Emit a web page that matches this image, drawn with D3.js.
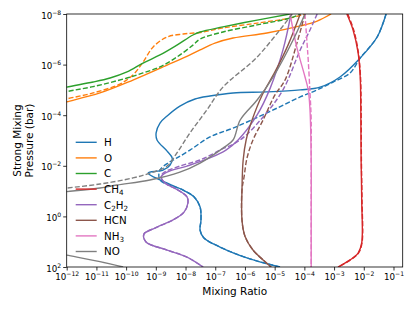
<!DOCTYPE html>
<html>
<head>
<meta charset="utf-8">
<script src="https://cdn.jsdelivr.net/npm/d3@7"></script>
<style>
  body { margin: 0; background: #fff; }
  text { font-family: "DejaVu Sans", sans-serif; fill: #000; }
</style>
</head>
<body>
<script>
// values, stored as log10(pressure in bar) and log10(mixing ratio)
var hSolidP = [-8, -7.09, -6.26, -5.51, -5.11, -5.0, -4.92, -4.88, -4.76, -4.64, -4.36, -3.97, -3.69, -3.30, -3.02, -2.58, -2.31, -2.03, -1.83, -1.75, -1.71, -1.44, -1.04, -0.77, -0.37, 0.14, 0.54, 0.85, 1.21, 1.68, 2.0];
var hSolidX = [-1.25, -1.55, -2.12, -2.80, -3.47, -4.14, -5.26, -6.40, -7.18, -7.68, -8.19, -8.62, -8.86, -8.99, -8.96, -8.62, -8.45, -8.52, -8.76, -9.20, -9.26, -8.86, -8.08, -7.71, -7.51, -7.48, -7.51, -7.38, -6.84, -5.83, -4.82];
var hDashP = [-8, -7.09, -6.26, -5.67, -5.31, -5.0, -4.72, -4.09, -3.49, -3.14, -2.62, -2.31, -2.11, -1.83, -1.44, -1.04, -0.77, -0.37, 0.14, 0.54, 0.85, 1.21, 1.68, 2.0];
var hDashX = [-1.25, -1.55, -2.12, -2.46, -3.03, -3.57, -4.14, -5.26, -6.40, -7.18, -7.85, -8.29, -8.59, -8.86, -8.86, -8.08, -7.71, -7.51, -7.48, -7.51, -7.38, -6.84, -5.83, -4.82];

var oSolidP = [-4.41, -4.53, -4.88, -5.39, -5.98, -6.38, -6.58, -6.85, -7.05, -7.25, -7.53, -7.72, -8];
var oSolidX = [-12.4, -12, -10.88, -9.77, -8.62, -7.85, -7.51, -7.01, -6.40, -5.26, -4.14, -3.57, -3.10];
var oDashP = [-4.5, -4.64, -4.88, -5.23, -5.59, -6.10, -6.70, -7.09, -7.21, -7.27, -7.45, -7.64, -7.84, -8];
var oDashX = [-12.4, -12, -11.11, -10.21, -9.77, -9.43, -9.09, -8.62, -8.08, -7.51, -6.74, -5.59, -4.48, -3.98];

var cSolidP = [-5.0, -5.11, -5.31, -5.47, -5.71, -6.06, -6.38, -6.77, -7.17, -7.29, -7.49, -7.76, -8];
var cSolidX = [-12.4, -12, -11.11, -10.54, -9.97, -9.43, -8.86, -8.29, -7.75, -7.51, -6.74, -5.59, -4.48];
var cDashP = [-4.8, -4.93, -5.13, -5.47, -5.67, -5.91, -6.30, -6.77, -7.01, -7.29, -7.57, -7.84, -8];
var cDashX = [-12.4, -12, -11.11, -9.97, -9.43, -8.86, -8.29, -7.75, -7.51, -6.74, -5.59, -4.48, -4.14];

var ch4P = [-8, -7.37, -6.46, -5.51, -4.21, -2.23, -0.65, 1.05, 1.45, 1.72, 2.0];
var ch4SolidX = [-2.57, -2.36, -2.19, -2.12, -2.10, -2.09, -2.07, -2.07, -2.19, -2.46, -2.87];
var ch4DashX = [-2.54, -2.34, -2.18, -2.11, -2.09, -2.08, -2.06, -2.06, -2.18, -2.45, -2.86];

var c2h2SolidP = [-8, -6.58, -5.07, -4.01, -3.02, -2.62, -2.31, -1.99, -1.75, -1.56, -1.32, -1.04, -0.77, -0.53, -0.17, 0.14, 0.46, 0.70, 1.01, 1.33, 1.61, 2.0];
var c2h2SolidX = [-4.45, -4.72, -5.15, -5.59, -6.23, -6.64, -7.18, -7.95, -8.62, -8.82, -8.69, -8.25, -7.95, -7.92, -8.05, -8.42, -9.03, -9.40, -9.33, -8.62, -7.95, -7.41];
var c2h2DashP = [-8, -7.37, -6.58, -5.0, -3.93, -3.02, -2.62, -2.23, -1.99, -1.71, -1.56, -1.32, -1.04, -0.77, -0.53, -0.17, 0.14, 0.46, 0.70, 1.01, 1.33, 1.61, 2.0];
var c2h2DashX = [-3.57, -3.81, -4.14, -4.72, -5.39, -6.16, -6.84, -7.51, -8.19, -8.76, -8.82, -8.69, -8.25, -7.95, -7.92, -8.05, -8.42, -9.03, -9.40, -9.33, -8.62, -7.95, -7.41];

var hcnSolidP = [-8, -6.77, -5.71, -4.8, -3.81, -3.02, -2.23, -1.04, 0.14, 0.78, 1.33, 1.72, 2.0];
var hcnSolidX = [-4.14, -4.55, -4.99, -5.42, -5.76, -5.96, -6.06, -6.10, -6.10, -6.0, -5.73, -5.39, -5.12];
var hcnDashP = [-8, -6.85, -5.39, -4.8, -3.81, -3.02, -2.31, -1.56, -1.04, 0.14, 0.78, 1.33, 1.72, 2.0];
var hcnDashX = [-3.98, -4.25, -4.65, -4.99, -5.39, -5.73, -5.93, -6.03, -6.10, -6.10, -6.0, -5.73, -5.39, -5.12];

var nh3SolidP = [-8, -6.71, -5.52, -5.0, -4.21, -2.23, 0, 2];
var nh3SolidX = [-4.48, -4.26, -3.98, -3.87, -3.81, -3.77, -3.77, -3.77];
var nh3DashP = [-8, -6.85, -6.18, -4.88, -3.81, -2.23, 0, 2];
var nh3DashX = [-3.98, -3.91, -3.87, -3.81, -3.77, -3.77, -3.77, -3.77];

var noSolidP = [-8, -6.97, -5.51, -4.60, -3.81, -3.02, -2.70, -2.11, -1.75, -1.44, -1.24, -1.12, -0.98, -0.9];
var noSolidX = [-3.98, -4.38, -5.05, -5.59, -6.16, -6.40, -6.74, -7.51, -8.19, -9.20, -10.31, -10.88, -12.0, -12.7];
var noDeepP = [1.39, 1.53, 1.79, 2.0];
var noDeepX = [-12.6, -12.0, -10.88, -10.10];
var noDashP = [-8, -6.30, -5.11, -4.21, -3.30, -2.51, -1.99, -1.71, -1.52, -1.28, -1.12, -1.04];
var noDashX = [-4.41, -5.59, -6.74, -7.28, -7.85, -8.29, -8.62, -9.20, -9.77, -10.88, -12.0, -12.6];

var species = ['H', 'O', 'C', 'CH4', 'C2H2', 'HCN', 'NH3', 'NO'];
var colors = ['#1f77b4', '#ff7f0e', '#2ca02c', '#d62728', '#9467bd', '#8c564b', '#e377c2', '#7f7f7f'];
var xTicks = [1e-12, 1e-11, 1e-10, 1e-9, 1e-8, 1e-7, 1e-6, 1e-5, 1e-4, 1e-3, 1e-2, 1e-1];
var yTicks = [1e-8, 1e-6, 1e-4, 1e-2, 1e0, 1e2];

var lines = [
  {s: 0, dash: false, p: hSolidP, r: hSolidX},
  {s: 0, dash: true, p: hDashP, r: hDashX},
  {s: 1, dash: false, p: oSolidP, r: oSolidX},
  {s: 1, dash: true, p: oDashP, r: oDashX},
  {s: 2, dash: false, p: cSolidP, r: cSolidX},
  {s: 2, dash: true, p: cDashP, r: cDashX},
  {s: 3, dash: false, p: ch4P, r: ch4SolidX},
  {s: 3, dash: true, p: ch4P, r: ch4DashX},
  {s: 4, dash: false, p: c2h2SolidP, r: c2h2SolidX},
  {s: 4, dash: true, p: c2h2DashP, r: c2h2DashX},
  {s: 5, dash: false, p: hcnSolidP, r: hcnSolidX},
  {s: 5, dash: true, p: hcnDashP, r: hcnDashX},
  {s: 6, dash: false, p: nh3SolidP, r: nh3SolidX},
  {s: 6, dash: true, p: nh3DashP, r: nh3DashX},
  {s: 7, dash: false, p: noSolidP, r: noSolidX},
  {s: 7, dash: false, p: noDeepP, r: noDeepX},
  {s: 7, dash: true, p: noDashP, r: noDashX}
];

var width = 415, height = 311;
var x = d3.scaleLog().domain([1e-12, Math.pow(10, -0.69)]).range([66.7, 402.7]);
var y = d3.scaleLog().domain([1e-8, 1e2]).range([14, 267]);
var x0 = x.range()[0], x1 = x.range()[1], y0 = y.range()[0], y1 = y.range()[1];

var svg = d3.select('body').append('svg').attr('width', width).attr('height', height);

svg.append('defs').append('clipPath').attr('id', 'plot')
  .append('rect').attr('x', x0).attr('y', y0).attr('width', x1 - x0).attr('height', y1 - y0);

var line = d3.line()
  .x(d => x(d.r))
  .y(d => y(d.p))
  .curve(d3.curveCatmullRom.alpha(0.5));

var plot = svg.append('g').attr('clip-path', 'url(#plot)');
lines.forEach(function(l) {
  var pts = l.p.map((v, i) => ({p: Math.pow(10, v), r: Math.pow(10, l.r[i])}));
  plot.append('path')
    .datum(pts)
    .attr('d', line)
    .attr('fill', 'none')
    .attr('stroke', colors[l.s])
    .attr('stroke-width', 1.4)
    .attr('stroke-dasharray', l.dash ? '5,2.2' : null);
});

// axes
function expLabel(sel, size) {
  sel.each(function(d) {
    var t = d3.select(this).text('');
    var e = Math.round(Math.log10(d));
    t.append('tspan').attr('font-size', size).text('10');
    t.append('tspan').attr('font-size', size * 0.7).attr('dy', -size * 0.45)
      .text(e < 0 ? '\u2212' + (-e) : '' + e);
  });
}

var xAxis = svg.append('g').attr('transform', 'translate(0,' + y1 + ')')
  .call(d3.axisBottom(x).tickValues(xTicks).tickSize(3.5).tickSizeOuter(0));
xAxis.select('.domain').remove();
xAxis.selectAll('.tick line').attr('stroke-width', 0.8);
xAxis.selectAll('.tick text').attr('y', 13).attr('dy', 0).attr('fill', '#000')
  .attr('font-family', 'DejaVu Sans').call(expLabel, 8.7);

var yAxis = svg.append('g').attr('transform', 'translate(' + x0 + ',0)')
  .call(d3.axisLeft(y).tickValues(yTicks).tickSize(3.5).tickSizeOuter(0));
yAxis.select('.domain').remove();
yAxis.selectAll('.tick line').attr('stroke-width', 0.8);
yAxis.selectAll('.tick text').attr('x', -5.5).attr('dy', 0).attr('y', 4).attr('fill', '#000')
  .attr('font-family', 'DejaVu Sans').call(expLabel, 8.7);

svg.append('rect')
  .attr('x', x0).attr('y', y0).attr('width', x1 - x0).attr('height', y1 - y0)
  .attr('fill', 'none').attr('stroke', '#000').attr('stroke-width', 0.8);

// axis labels
svg.append('text').attr('x', (x0 + x1) / 2).attr('y', 295).attr('text-anchor', 'middle')
  .attr('font-size', 10.5).text('Mixing Ratio');
svg.append('text').attr('transform', 'translate(21,' + (y0 + y1) / 2 + ') rotate(-90)')
  .attr('text-anchor', 'middle').attr('font-size', 10.5).text('Strong Mixing');
svg.append('text').attr('transform', 'translate(32.5,' + (y0 + y1) / 2 + ') rotate(-90)')
  .attr('text-anchor', 'middle').attr('font-size', 10.5).text('Pressure (bar)');

// legend
var legend = svg.append('g').attr('transform', 'translate(75.7,142.3)');
species.forEach(function(name, i) {
  var g = legend.append('g').attr('transform', 'translate(0,' + i * 15.6 + ')');
  g.append('line').attr('x1', 0).attr('x2', 21).attr('stroke', colors[i]).attr('stroke-width', 1.4);
  var t = g.append('text').attr('x', 28.3).attr('y', 3.8).attr('font-size', 10.3);
  var parts = name.match(/[A-Z][a-z]?|\d+/g);
  var sub = false;
  parts.forEach(function(p) {
    if (/\d/.test(p)) {
      t.append('tspan').attr('font-size', 7.2).attr('dy', 2.5).text(p);
      sub = true;
    } else {
      t.append('tspan').attr('dy', sub ? -2.5 : null).text(p);
      sub = false;
    }
  });
});
</script>
</body>
</html>
